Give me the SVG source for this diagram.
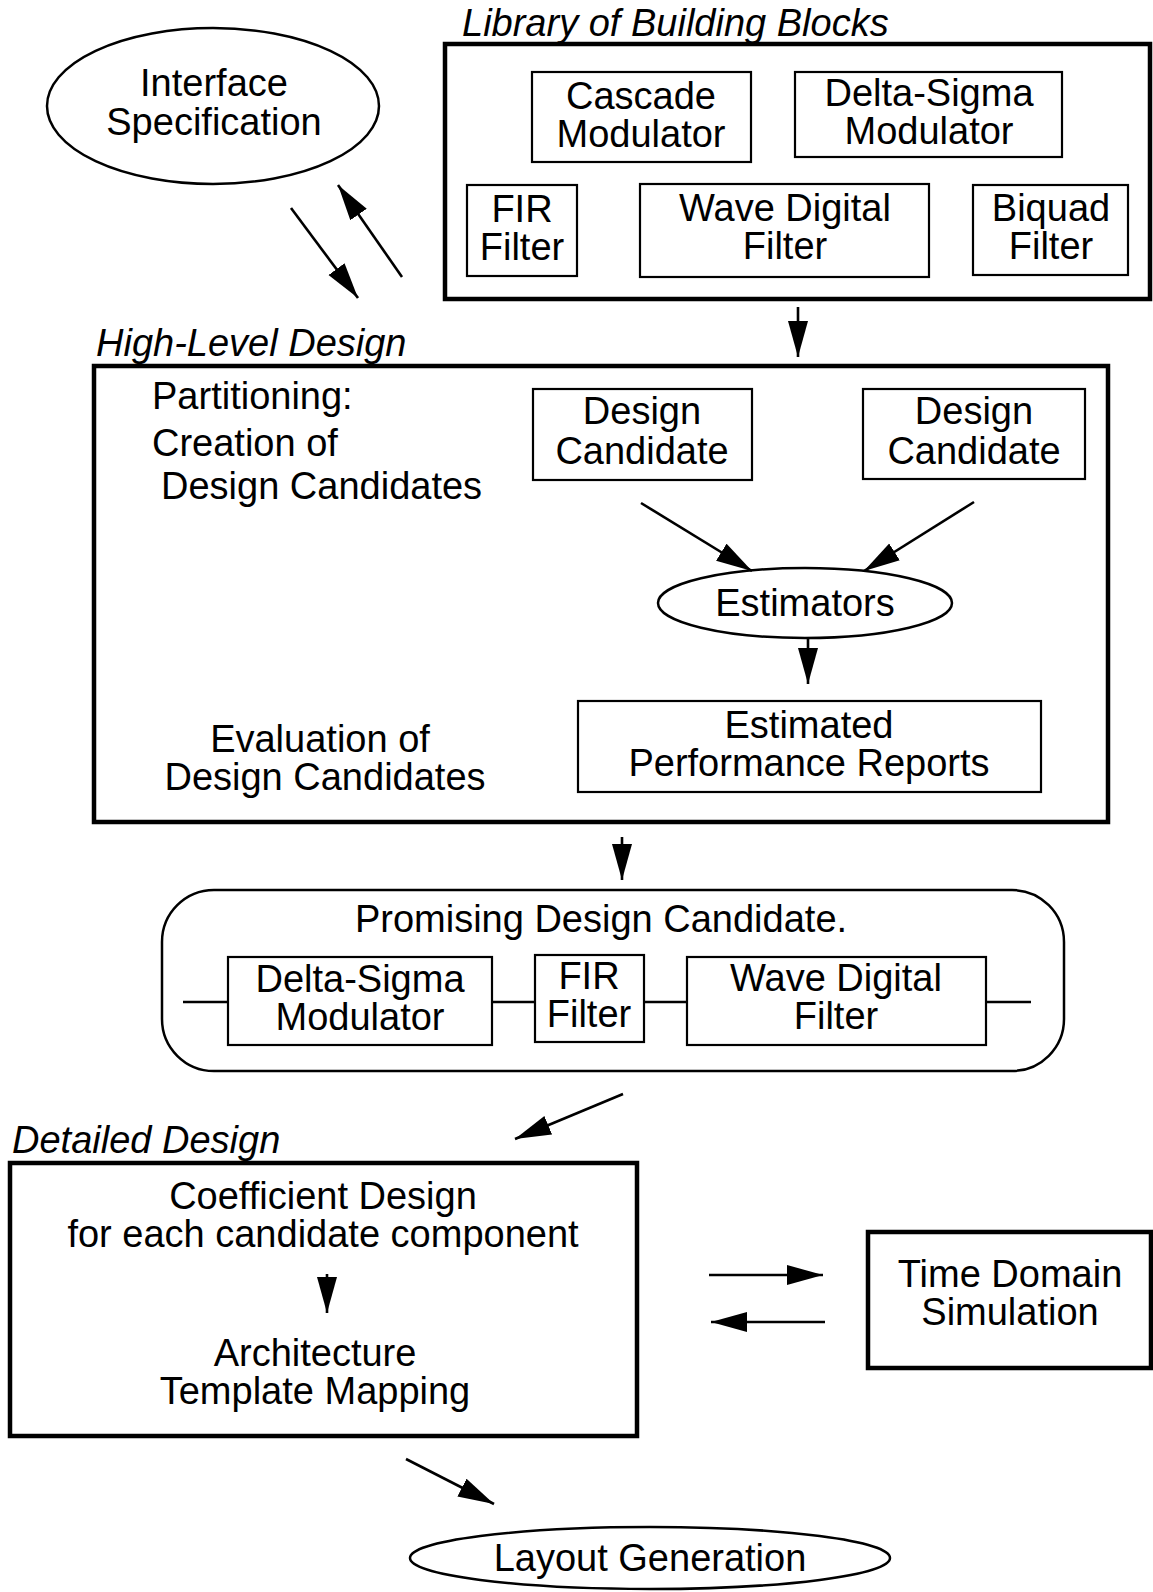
<svg xmlns="http://www.w3.org/2000/svg" width="1153" height="1592" viewBox="0 0 1153 1592">
<style>
text{font-family:"Liberation Sans",Arial,sans-serif;font-size:38px;fill:#000}
.t{text-anchor:middle}
.it{font-style:italic}
.box{fill:none;stroke:#000;stroke-width:2.2}
.big{fill:none;stroke:#000;stroke-width:4.5}
.ell{fill:none;stroke:#000;stroke-width:2.5}
.con{stroke:#000;stroke-width:2.6;fill:none}
</style>
<defs>
<marker id="ah" markerUnits="userSpaceOnUse" markerWidth="38" markerHeight="22" refX="36" refY="10" orient="auto">
<path d="M0,0 L36,10 L0,20 Z" fill="#000"/>
</marker>
</defs>
<rect width="1153" height="1592" fill="#fff"/>

<g id="interface-spec">
<ellipse class="ell" cx="213" cy="106" rx="166" ry="78"/>
<text class="t" x="214" y="96">Interface</text>
<text class="t" x="214" y="135">Specification</text>
</g>

<g id="library">
<text class="it" x="462" y="36">Library of Building Blocks</text>
<rect class="big" x="445" y="44" width="705" height="255"/>
</g>
<g id="cascade-modulator">
<rect class="box" x="532" y="72" width="219" height="90"/>
<text class="t" x="641" y="109">Cascade</text>
<text class="t" x="641" y="147">Modulator</text>
</g>
<g id="delta-sigma-lib">
<rect class="box" x="795" y="72" width="267" height="85"/>
<text class="t" x="929" y="106">Delta-Sigma</text>
<text class="t" x="929" y="144">Modulator</text>
</g>
<g id="fir-lib">
<rect class="box" x="467" y="185" width="110" height="91"/>
<text class="t" x="522" y="222">FIR</text>
<text class="t" x="522" y="260">Filter</text>
</g>
<g id="wdf-lib">
<rect class="box" x="640" y="184" width="289" height="93"/>
<text class="t" x="785" y="221">Wave Digital</text>
<text class="t" x="785" y="259">Filter</text>
</g>
<g id="biquad-lib">
<rect class="box" x="973" y="185" width="155" height="90"/>
<text class="t" x="1051" y="221">Biquad</text>
<text class="t" x="1051" y="259">Filter</text>
</g>

<g id="high-level">
<text class="it" x="96" y="356">High-Level Design</text>
<rect class="big" x="94" y="366" width="1014" height="456"/>
<text x="152" y="409">Partitioning:</text>
<text x="152" y="456">Creation of</text>
<text x="161" y="499">Design Candidates</text>
<text class="t" x="320" y="752">Evaluation of</text>
<text class="t" x="325" y="790">Design Candidates</text>
</g>
<g id="design-candidate-1">
<rect class="box" x="533" y="389" width="219" height="91"/>
<text class="t" x="642" y="424">Design</text>
<text class="t" x="642" y="464">Candidate</text>
</g>
<g id="design-candidate-2">
<rect class="box" x="863" y="389" width="222" height="90"/>
<text class="t" x="974" y="424">Design</text>
<text class="t" x="974" y="464">Candidate</text>
</g>
<g id="estimators">
<ellipse class="ell" cx="805" cy="603" rx="147" ry="35"/>
<text class="t" x="805" y="616">Estimators</text>
</g>
<g id="reports">
<rect class="box" x="578" y="701" width="463" height="91"/>
<text class="t" x="809" y="738">Estimated</text>
<text class="t" x="809" y="776">Performance Reports</text>
</g>

<g id="promising">
<rect class="ell" x="162" y="890" width="902" height="181" rx="52" ry="52"/>
<text class="t" x="601" y="932">Promising Design Candidate.</text>
<line class="con" x1="183" y1="1002" x2="228" y2="1002"/>
<line class="con" x1="492" y1="1002" x2="535" y2="1002"/>
<line class="con" x1="644" y1="1002" x2="687" y2="1002"/>
<line class="con" x1="986" y1="1002" x2="1031" y2="1002"/>
</g>
<g id="delta-sigma-p">
<rect class="box" x="228" y="957" width="264" height="88"/>
<text class="t" x="360" y="992">Delta-Sigma</text>
<text class="t" x="360" y="1030">Modulator</text>
</g>
<g id="fir-p">
<rect class="box" x="535" y="955" width="109" height="87"/>
<text class="t" x="589" y="989">FIR</text>
<text class="t" x="589" y="1027">Filter</text>
</g>
<g id="wdf-p">
<rect class="box" x="687" y="957" width="299" height="88"/>
<text class="t" x="836" y="991">Wave Digital</text>
<text class="t" x="836" y="1029">Filter</text>
</g>

<g id="detailed">
<text class="it" x="12" y="1153">Detailed Design</text>
<rect class="big" x="10" y="1163" width="627" height="273"/>
<text class="t" x="323" y="1209">Coefficient Design</text>
<text class="t" x="323" y="1247">for each candidate component</text>
<text class="t" x="315" y="1366">Architecture</text>
<text class="t" x="315" y="1404">Template Mapping</text>
</g>
<g id="time-domain">
<rect class="big" x="868" y="1232" width="283" height="136"/>
<text class="t" x="1010" y="1287">Time Domain</text>
<text class="t" x="1010" y="1325">Simulation</text>
</g>
<g id="layout">
<ellipse class="ell" cx="650" cy="1558" rx="240" ry="31"/>
<text class="t" x="650" y="1571">Layout Generation</text>
</g>

<g id="connectors">
<line class="con" x1="291" y1="208" x2="358" y2="298" marker-end="url(#ah)"/>
<line class="con" x1="402" y1="277" x2="338" y2="185" marker-end="url(#ah)"/>
<line class="con" x1="798" y1="307" x2="798" y2="357" marker-end="url(#ah)"/>
<line class="con" x1="641" y1="503" x2="752" y2="571" marker-end="url(#ah)"/>
<line class="con" x1="974" y1="502" x2="864" y2="571" marker-end="url(#ah)"/>
<line class="con" x1="808" y1="638" x2="808" y2="684" marker-end="url(#ah)"/>
<line class="con" x1="622" y1="837" x2="622" y2="880" marker-end="url(#ah)"/>
<line class="con" x1="623" y1="1094" x2="515" y2="1139" marker-end="url(#ah)"/>
<line class="con" x1="327" y1="1274" x2="327" y2="1313" marker-end="url(#ah)"/>
<line class="con" x1="709" y1="1275" x2="823" y2="1275" marker-end="url(#ah)"/>
<line class="con" x1="825" y1="1322" x2="711" y2="1322" marker-end="url(#ah)"/>
<line class="con" x1="406" y1="1459" x2="494" y2="1504" marker-end="url(#ah)"/>
</g>
</svg>
